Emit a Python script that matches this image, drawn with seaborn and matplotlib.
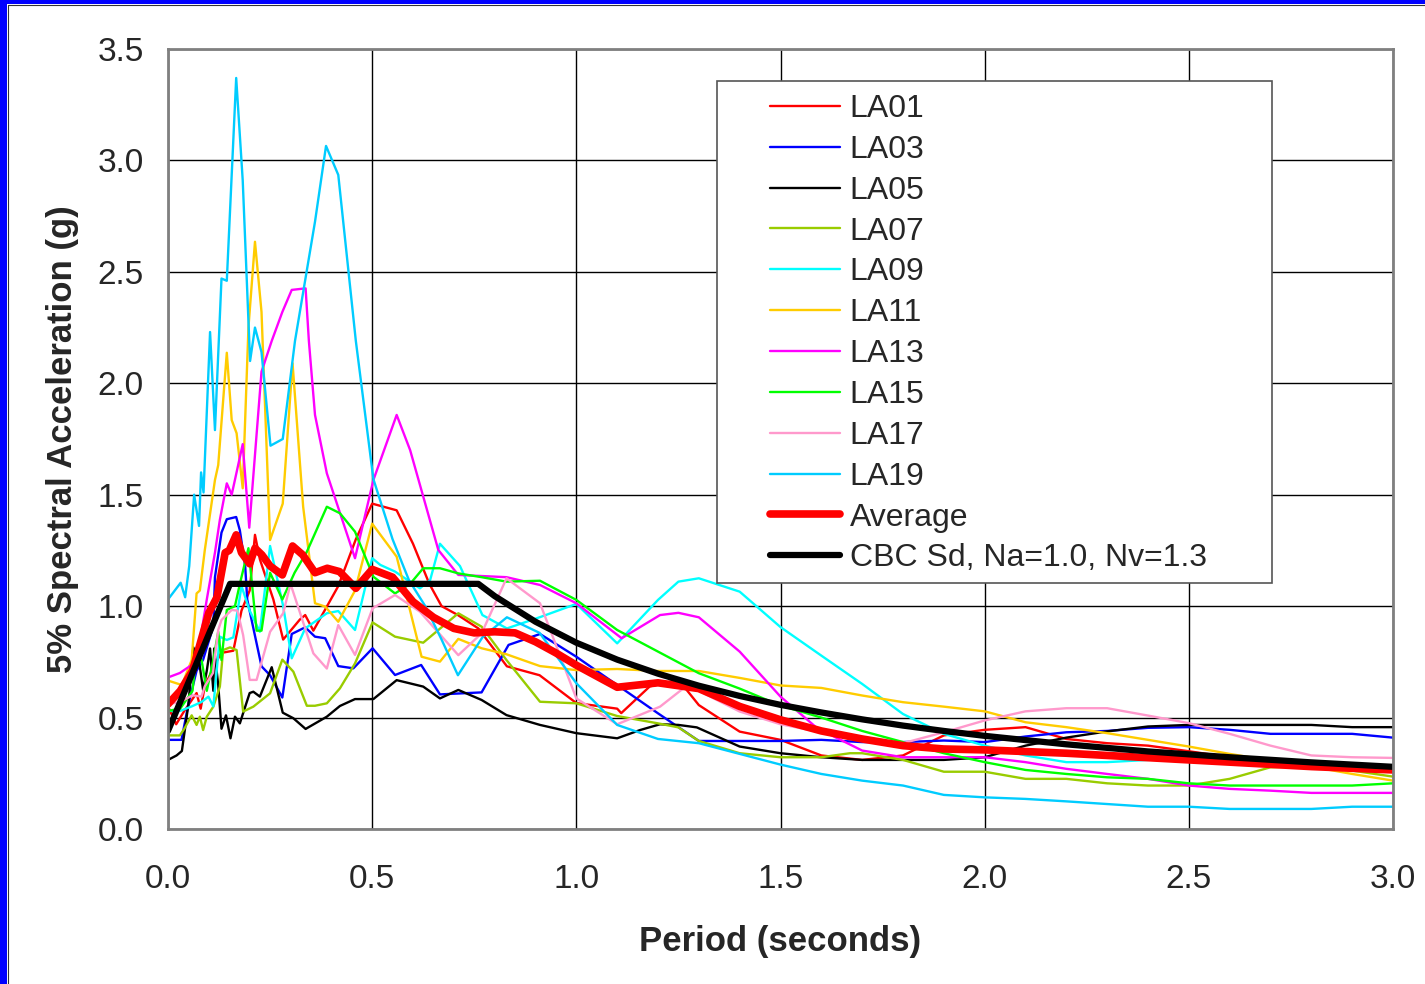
import matplotlib
matplotlib.use("Agg")
import matplotlib.pyplot as plt
from matplotlib.patches import Rectangle
from matplotlib.lines import Line2D
import pandas as pd
import seaborn as sns

# Spectres de reponse (5% amortissement)
LA01_T = [0.0, 0.02, 0.04, 0.07, 0.08, 0.09, 0.11, 0.13, 0.16, 0.18, 0.2, 0.213, 0.225, 0.258, 0.282, 0.323, 0.336, 0.356, 0.417, 0.46, 0.5, 0.56, 0.6, 0.64, 0.67, 0.71, 0.76, 0.83, 0.91, 1.0, 1.1, 1.11, 1.18, 1.25, 1.3, 1.4, 1.5, 1.6, 1.7, 1.8, 1.9, 2.0, 2.1, 2.2, 2.3, 2.4, 2.5, 2.6, 2.7, 2.8, 2.9, 3.0]
LA01_Sa = [0.55, 0.47, 0.53, 0.61, 0.54, 0.64, 0.72, 0.79, 0.80, 0.98, 1.07, 1.32, 1.21, 1.03, 0.85, 0.94, 0.96, 0.89, 1.09, 1.30, 1.46, 1.43, 1.28, 1.10, 1.00, 0.96, 0.90, 0.73, 0.69, 0.565, 0.54, 0.52, 0.64, 0.67, 0.556, 0.437, 0.40, 0.33, 0.31, 0.33, 0.42, 0.445, 0.457, 0.404, 0.385, 0.374, 0.349, 0.322, 0.307, 0.295, 0.277, 0.259]

LA03_T = [0.0, 0.033, 0.05, 0.07, 0.086, 0.111, 0.115, 0.131, 0.144, 0.167, 0.176, 0.189, 0.194, 0.229, 0.25, 0.28, 0.303, 0.336, 0.36, 0.385, 0.417, 0.454, 0.501, 0.556, 0.62, 0.666, 0.768, 0.834, 0.911, 1.0, 1.1, 1.2, 1.3, 1.4, 1.5, 1.6, 1.7, 1.8, 1.9, 2.0, 2.1, 2.2, 2.3, 2.4, 2.5, 2.6, 2.7, 2.8, 2.9, 3.0]
LA03_Sa = [0.40, 0.40, 0.56, 0.71, 0.76, 0.91, 1.13, 1.33, 1.39, 1.40, 1.34, 1.18, 1.03, 0.73, 0.69, 0.59, 0.875, 0.905, 0.863, 0.856, 0.731, 0.721, 0.811, 0.691, 0.736, 0.604, 0.613, 0.826, 0.875, 0.773, 0.646, 0.519, 0.395, 0.395, 0.395, 0.40, 0.39, 0.39, 0.397, 0.39, 0.415, 0.434, 0.44, 0.454, 0.457, 0.445, 0.427, 0.427, 0.427, 0.41]

LA05_T = [0.0, 0.021, 0.034, 0.05, 0.062, 0.078, 0.086, 0.095, 0.103, 0.111, 0.113, 0.123, 0.131, 0.142, 0.153, 0.164, 0.176, 0.184, 0.2, 0.209, 0.225, 0.254, 0.281, 0.307, 0.337, 0.389, 0.421, 0.458, 0.503, 0.56, 0.625, 0.666, 0.711, 0.768, 0.829, 0.911, 1.0, 1.1, 1.156, 1.205, 1.25, 1.295, 1.4, 1.5, 1.6, 1.7, 1.8, 1.9, 2.0, 2.1, 2.2, 2.3, 2.4, 2.5, 2.6, 2.7, 2.8, 2.9, 3.0]
LA05_Sa = [0.31, 0.33, 0.35, 0.56, 0.815, 0.728, 0.624, 0.71, 0.81, 0.62, 0.81, 0.646, 0.45, 0.51, 0.407, 0.504, 0.474, 0.52, 0.61, 0.616, 0.594, 0.726, 0.522, 0.497, 0.449, 0.504, 0.552, 0.583, 0.583, 0.668, 0.639, 0.586, 0.624, 0.579, 0.511, 0.467, 0.43, 0.407, 0.444, 0.47, 0.467, 0.456, 0.37, 0.34, 0.322, 0.31, 0.31, 0.31, 0.322, 0.374, 0.41, 0.438, 0.46, 0.467, 0.467, 0.467, 0.467, 0.457, 0.457]

LA07_T = [0.0, 0.029, 0.04, 0.058, 0.07, 0.078, 0.086, 0.095, 0.111, 0.127, 0.135, 0.152, 0.168, 0.184, 0.209, 0.25, 0.28, 0.307, 0.34, 0.36, 0.389, 0.421, 0.458, 0.501, 0.556, 0.625, 0.711, 0.768, 0.829, 0.911, 1.0, 1.1, 1.2, 1.25, 1.3, 1.4, 1.5, 1.6, 1.67, 1.7, 1.8, 1.9, 2.0, 2.1, 2.2, 2.3, 2.4, 2.5, 2.6, 2.7, 2.8, 2.9, 3.0]
LA07_Sa = [0.42, 0.42, 0.45, 0.51, 0.467, 0.504, 0.444, 0.504, 0.549, 0.639, 0.803, 0.815, 0.803, 0.527, 0.549, 0.609, 0.76, 0.706, 0.553, 0.553, 0.564, 0.631, 0.743, 0.927, 0.863, 0.836, 0.968, 0.908, 0.758, 0.571, 0.564, 0.507, 0.474, 0.456, 0.395, 0.34, 0.322, 0.322, 0.34, 0.34, 0.31, 0.257, 0.257, 0.225, 0.225, 0.205, 0.195, 0.195, 0.225, 0.277, 0.28, 0.262, 0.235]

LA09_T = [0.0, 0.03, 0.058, 0.07, 0.082, 0.099, 0.111, 0.127, 0.144, 0.16, 0.18, 0.2, 0.225, 0.25, 0.282, 0.303, 0.336, 0.389, 0.417, 0.458, 0.5, 0.52, 0.556, 0.617, 0.642, 0.666, 0.715, 0.77, 0.83, 0.91, 1.0, 1.1, 1.2, 1.25, 1.3, 1.4, 1.5, 1.6, 1.7, 1.8, 1.9, 2.0, 2.1, 2.2, 2.3, 2.4, 2.5, 2.6, 2.7, 2.8, 2.9, 3.0]
LA09_Sa = [0.53, 0.53, 0.55, 0.56, 0.57, 0.594, 0.55, 0.863, 0.848, 0.86, 1.09, 0.98, 0.885, 1.27, 1.0, 0.766, 0.90, 0.968, 0.978, 0.893, 1.215, 1.185, 1.155, 1.08, 1.117, 1.28, 1.18, 0.96, 0.90, 0.95, 1.01, 0.833, 1.028, 1.11, 1.125, 1.065, 0.906, 0.778, 0.651, 0.516, 0.427, 0.374, 0.33, 0.30, 0.30, 0.31, 0.322, 0.31, 0.30, 0.29, 0.28, 0.27]

LA11_T = [0.0, 0.034, 0.058, 0.07, 0.078, 0.09, 0.115, 0.123, 0.144, 0.156, 0.168, 0.183, 0.197, 0.213, 0.229, 0.25, 0.281, 0.305, 0.331, 0.36, 0.385, 0.417, 0.458, 0.5, 0.56, 0.621, 0.666, 0.711, 0.768, 0.829, 0.911, 1.0, 1.1, 1.2, 1.3, 1.4, 1.5, 1.6, 1.7, 1.8, 1.9, 2.0, 2.1, 2.2, 2.3, 2.4, 2.5, 2.6, 2.7, 2.8, 2.9, 3.0]
LA11_Sa = [0.666, 0.646, 0.758, 1.057, 1.07, 1.25, 1.566, 1.633, 2.137, 1.835, 1.776, 1.529, 2.25, 2.635, 2.32, 1.297, 1.46, 2.09, 1.446, 1.013, 0.998, 0.93, 1.07, 1.37, 1.222, 0.773, 0.751, 0.853, 0.811, 0.784, 0.731, 0.713, 0.718, 0.709, 0.709, 0.678, 0.644, 0.633, 0.599, 0.569, 0.549, 0.528, 0.479, 0.457, 0.43, 0.40, 0.37, 0.337, 0.307, 0.28, 0.247, 0.217]

LA13_T = [0.0, 0.029, 0.045, 0.07, 0.095, 0.115, 0.127, 0.144, 0.156, 0.183, 0.199, 0.229, 0.254, 0.28, 0.303, 0.337, 0.345, 0.36, 0.389, 0.458, 0.503, 0.56, 0.593, 0.662, 0.711, 0.829, 0.911, 1.0, 1.111, 1.205, 1.25, 1.3, 1.4, 1.5, 1.59, 1.7, 1.8, 1.9, 2.0, 2.1, 2.2, 2.3, 2.4, 2.5, 2.6, 2.7, 2.8, 2.9, 3.0]
LA13_Sa = [0.68, 0.70, 0.72, 0.75, 1.03, 1.24, 1.387, 1.551, 1.50, 1.727, 1.352, 2.052, 2.19, 2.32, 2.419, 2.426, 2.19, 1.858, 1.596, 1.215, 1.566, 1.858, 1.70, 1.252, 1.14, 1.13, 1.095, 1.013, 0.856, 0.96, 0.97, 0.95, 0.796, 0.594, 0.452, 0.352, 0.322, 0.322, 0.322, 0.30, 0.27, 0.247, 0.225, 0.195, 0.18, 0.172, 0.162, 0.162, 0.162]

LA15_T = [0.0, 0.03, 0.06, 0.07, 0.082, 0.095, 0.11, 0.123, 0.131, 0.144, 0.164, 0.176, 0.197, 0.217, 0.229, 0.25, 0.28, 0.31, 0.34, 0.389, 0.421, 0.458, 0.503, 0.556, 0.593, 0.625, 0.666, 0.711, 0.768, 0.829, 0.911, 1.0, 1.1, 1.2, 1.3, 1.4, 1.5, 1.6, 1.7, 1.8, 1.9, 2.0, 2.1, 2.2, 2.3, 2.4, 2.5, 2.6, 2.7, 2.8, 2.9, 3.0]
LA15_Sa = [0.53, 0.54, 0.62, 0.80, 0.76, 0.62, 0.75, 0.885, 0.758, 0.983, 1.0, 1.10, 1.26, 0.89, 0.89, 1.15, 1.03, 1.15, 1.244, 1.446, 1.417, 1.334, 1.132, 1.057, 1.10, 1.17, 1.17, 1.147, 1.13, 1.11, 1.114, 1.028, 0.893, 0.796, 0.699, 0.63, 0.554, 0.50, 0.44, 0.39, 0.34, 0.30, 0.265, 0.247, 0.232, 0.225, 0.205, 0.195, 0.195, 0.195, 0.195, 0.205]

LA17_T = [0.0, 0.03, 0.06, 0.082, 0.09, 0.11, 0.123, 0.131, 0.156, 0.17, 0.184, 0.2, 0.217, 0.25, 0.282, 0.3, 0.356, 0.389, 0.417, 0.458, 0.501, 0.556, 0.617, 0.711, 0.768, 0.829, 0.911, 1.0, 1.1, 1.205, 1.262, 1.3, 1.4, 1.5, 1.6, 1.7, 1.8, 1.9, 2.0, 2.1, 2.2, 2.3, 2.4, 2.5, 2.6, 2.7, 2.8, 2.9, 3.0]
LA17_Sa = [0.56, 0.57, 0.60, 0.594, 0.64, 0.70, 0.893, 0.938, 0.983, 0.98, 0.87, 0.669, 0.669, 0.885, 0.968, 1.10, 0.788, 0.72, 0.915, 0.781, 0.99, 1.05, 0.975, 0.78, 0.878, 1.125, 1.013, 0.586, 0.47, 0.549, 0.631, 0.62, 0.527, 0.47, 0.434, 0.397, 0.385, 0.434, 0.487, 0.528, 0.542, 0.542, 0.509, 0.475, 0.427, 0.374, 0.33, 0.322, 0.319]

LA19_T = [0.0, 0.031, 0.042, 0.052, 0.064, 0.076, 0.081, 0.087, 0.103, 0.115, 0.131, 0.144, 0.167, 0.183, 0.201, 0.213, 0.229, 0.251, 0.281, 0.311, 0.36, 0.387, 0.417, 0.46, 0.503, 0.55, 0.59, 0.63, 0.67, 0.71, 0.77, 0.83, 0.91, 1.0, 1.1, 1.2, 1.3, 1.4, 1.5, 1.6, 1.7, 1.8, 1.9, 2.0, 2.1, 2.2, 2.3, 2.4, 2.5, 2.6, 2.7, 2.8, 2.9, 3.0]
LA19_Sa = [1.03, 1.105, 1.04, 1.18, 1.50, 1.36, 1.60, 1.51, 2.23, 1.79, 2.47, 2.46, 3.37, 2.91, 2.10, 2.25, 2.14, 1.72, 1.75, 2.19, 2.725, 3.065, 2.935, 2.19, 1.57, 1.30, 1.117, 1.0, 0.85, 0.69, 0.86, 0.95, 0.88, 0.654, 0.467, 0.404, 0.385, 0.337, 0.289, 0.247, 0.217, 0.195, 0.153, 0.142, 0.135, 0.124, 0.112, 0.10, 0.10, 0.09, 0.09, 0.09, 0.10, 0.10]

AVG_T = [0.0, 0.03, 0.06, 0.08, 0.1, 0.12, 0.14, 0.15, 0.167, 0.18, 0.2, 0.213, 0.23, 0.25, 0.28, 0.305, 0.33, 0.36, 0.39, 0.42, 0.46, 0.5, 0.55, 0.6, 0.65, 0.7, 0.75, 0.8, 0.85, 0.9, 0.95, 1.0, 1.1, 1.2, 1.3, 1.4, 1.5, 1.6, 1.7, 1.8, 1.9, 2.0, 2.2, 2.4, 2.6, 2.8, 3.0]
AVG_Sa = [0.56, 0.62, 0.71, 0.84, 0.97, 1.04, 1.24, 1.25, 1.32, 1.24, 1.19, 1.26, 1.23, 1.18, 1.14, 1.27, 1.23, 1.15, 1.17, 1.155, 1.08, 1.165, 1.13, 1.02, 0.95, 0.90, 0.88, 0.885, 0.88, 0.84, 0.79, 0.735, 0.636, 0.656, 0.63, 0.55, 0.49, 0.44, 0.404, 0.374, 0.359, 0.355, 0.34, 0.32, 0.30, 0.28, 0.265]

CBC_T = [0.0, 0.152, 0.76, 0.8, 0.9, 1.0, 1.1, 1.2, 1.3, 1.4, 1.5, 1.6, 1.7, 1.8, 1.9, 2.0, 2.2, 2.4, 2.6, 2.8, 3.0]
CBC_Sa = [0.44, 1.10, 1.10, 1.045, 0.93, 0.836, 0.76, 0.697, 0.643, 0.597, 0.557, 0.523, 0.492, 0.464, 0.44, 0.418, 0.38, 0.348, 0.322, 0.299, 0.279]

X_TICKS = [0.0, 0.5, 1.0, 1.5, 2.0, 2.5, 3.0]
Y_TICKS = [0.0, 0.5, 1.0, 1.5, 2.0, 2.5, 3.0, 3.5]

# (nom, periodes, valeurs, couleur, epaisseur)
series = [
    ("LA01", LA01_T, LA01_Sa, "#FF0000", 1.7),
    ("LA03", LA03_T, LA03_Sa, "#0000FF", 1.7),
    ("LA05", LA05_T, LA05_Sa, "#000000", 1.7),
    ("LA07", LA07_T, LA07_Sa, "#99CC00", 1.7),
    ("LA09", LA09_T, LA09_Sa, "#00FFFF", 1.7),
    ("LA11", LA11_T, LA11_Sa, "#FFCC00", 1.7),
    ("LA13", LA13_T, LA13_Sa, "#FF00FF", 1.7),
    ("LA15", LA15_T, LA15_Sa, "#00FF00", 1.7),
    ("LA17", LA17_T, LA17_Sa, "#FF99CC", 1.7),
    ("LA19", LA19_T, LA19_Sa, "#00CCFF", 1.7),
    ("Average", AVG_T, AVG_Sa, "#FF0000", 5.5),
    ("CBC Sd, Na=1.0, Nv=1.3", CBC_T, CBC_Sa, "#000000", 4.5),
]


def configure_visualization():
    sns.set_theme(style="white")
    plt.rcParams['font.family'] = ['Liberation Sans', 'DejaVu Sans']
    plt.rcParams['xtick.labelsize'] = 24
    plt.rcParams['ytick.labelsize'] = 24
    plt.rcParams['axes.labelsize'] = 25


configure_visualization()

W, H = 1425, 984
fig = plt.figure(figsize=(W / 100, H / 100), dpi=100)
fig.patch.set_facecolor("white")
ax = fig.add_axes([168 / W, 155 / H, 1225 / W, 780 / H])

for name, T, Sa, color, lw in series:
    df = pd.DataFrame({"Period": T, "Sa": Sa})
    sns.lineplot(data=df, x="Period", y="Sa", color=color, linewidth=lw,
                 label=name, sort=False, estimator=None, ax=ax)

ax.set_xlim(0, 3.0)
ax.set_ylim(0, 3.5)
ax.set_xticks(X_TICKS)
ax.set_yticks(Y_TICKS)
ax.set_xticklabels([f"{v:.1f}" for v in X_TICKS])
ax.set_yticklabels([f"{v:.1f}" for v in Y_TICKS])
ax.grid(True, color="black", linewidth=1.0)
ax.set_axisbelow(True)
for s in ax.spines.values():
    s.set_color("#808080")
    s.set_linewidth(2)
ax.tick_params(axis="both", direction="out", length=6.5, width=1, color="black")
ax.tick_params(axis="x", pad=19)
ax.tick_params(axis="y", pad=11)
ax.set_xlabel("Period (seconds)", fontweight="bold", labelpad=21)
ax.set_ylabel("5% Spectral Acceleration (g)", fontweight="bold", labelpad=13)

# Cadre de legende (style Excel)
frame = Rectangle((717 / W, 1 - 583 / H), (1272 - 717) / W, (583 - 81) / H,
                  transform=fig.transFigure, facecolor="white", edgecolor="#555555",
                  linewidth=1.2, zorder=4.5, clip_on=False)
ax.add_patch(frame)
leg = ax.legend(loc="upper left", bbox_to_anchor=(770 / W, 1 - 94 / H),
                bbox_transform=fig.transFigure, frameon=False, fontsize=23,
                handlelength=2.2, handletextpad=0.3, labelspacing=0.34,
                borderpad=0, borderaxespad=0)
leg.set_zorder(5)

# Bordure bleue de la diapositive
fig.patches.append(Rectangle((0, 0), 7 / W, 1, transform=fig.transFigure,
                             facecolor="#0000FF", edgecolor="none"))
fig.patches.append(Rectangle((0, 1 - 4 / H), 1, 4 / H, transform=fig.transFigure,
                             facecolor="#0000FF", edgecolor="none"))
fig.lines.append(Line2D([7.5 / W, 7.5 / W], [0, 1 - 4.5 / H], transform=fig.transFigure,
                        color="#333333", linewidth=0.8))
fig.lines.append(Line2D([7.5 / W, 1], [1 - 4.5 / H, 1 - 4.5 / H], transform=fig.transFigure,
                        color="#333333", linewidth=0.8))

fig.savefig("out.png", dpi=100)
